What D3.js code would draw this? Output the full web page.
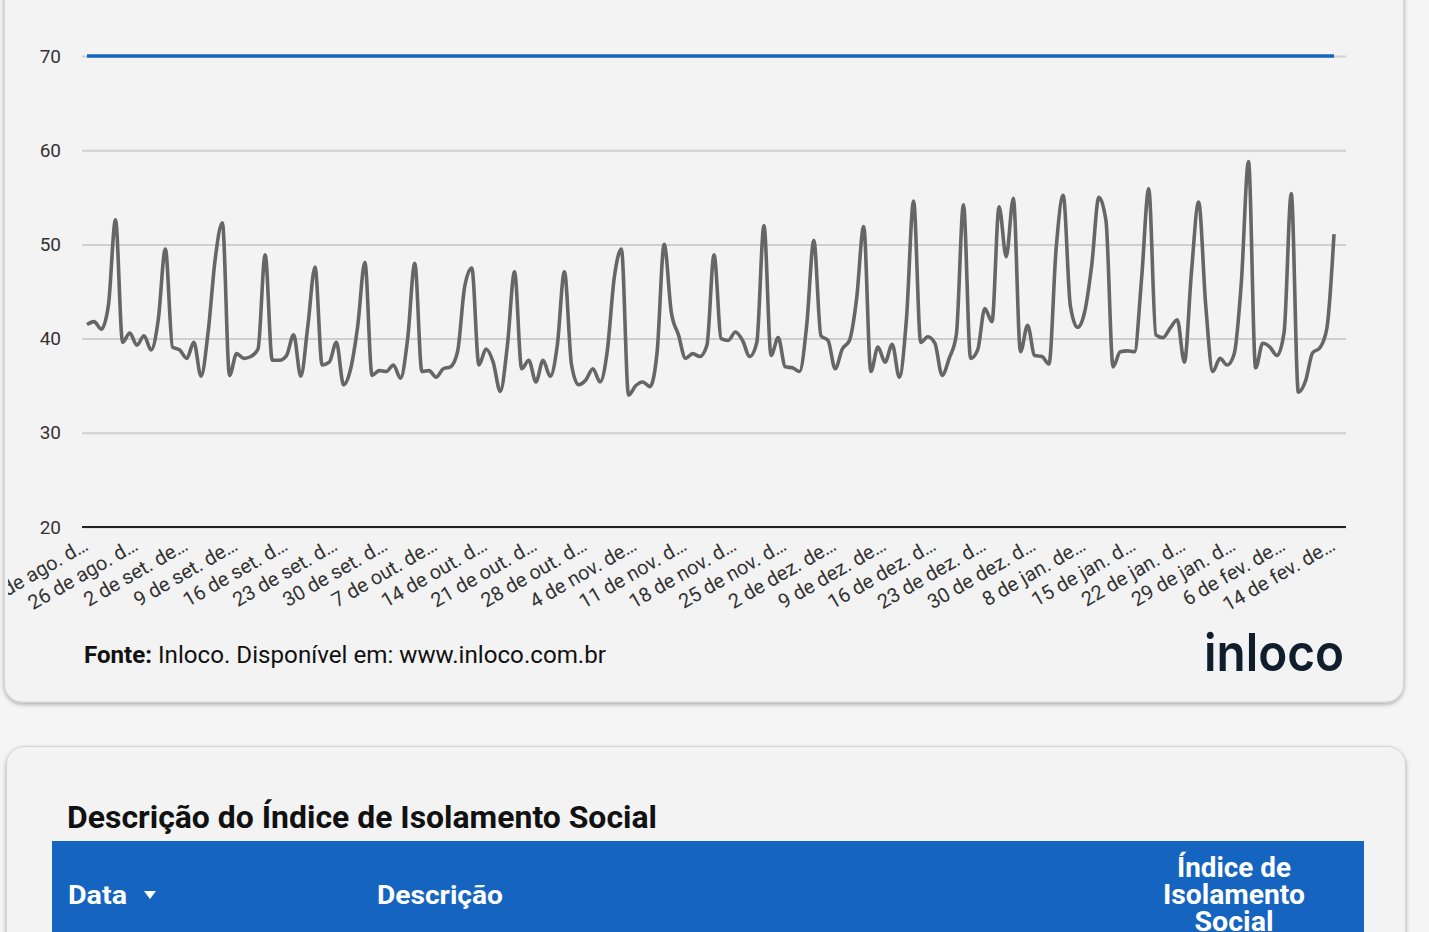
<!DOCTYPE html>
<html>
<head>
<meta charset="utf-8">
<script src="https://cdn.jsdelivr.net/npm/d3@7"></script>
<style>
  html, body { margin: 0; padding: 0; background: #f6f6f6; overflow: hidden; }
  svg { display: block; font-family: Roboto, "Noto Sans", sans-serif; }
</style>
</head>
<body>
<svg id="chart" width="1429" height="932"></svg>
<script>
// x tick labels (every 7th point), as shown truncated in the chart
const tickLabels = [
  "19 de ago. d…", "26 de ago. d…", "2 de set. de…", "9 de set. de…", "16 de set. d…",
  "23 de set. d…", "30 de set. d…", "7 de out. de…", "14 de out. d…", "21 de out. d…",
  "28 de out. d…", "4 de nov. de…", "11 de nov. d…", "18 de nov. d…", "25 de nov. d…",
  "2 de dez. de…", "9 de dez. de…", "16 de dez. d…", "23 de dez. d…", "30 de dez. d…",
  "8 de jan. de…", "15 de jan. d…", "22 de jan. d…", "29 de jan. d…", "6 de fev. de…",
  "14 de fev. de…"
];

// daily social isolation index
const isolamento = [
  41.5, 41.8, 41.0, 43.5, 52.6, 39.6, 40.6, 39.3, 40.3, 38.8,
  42.0, 49.5, 39.1, 38.8, 37.9, 39.6, 36.0, 40.7, 48.5, 52.3,
  36.1, 38.4, 37.9, 38.1, 38.9, 48.9, 37.7, 37.7, 38.2, 40.4,
  36.0, 41.4, 47.6, 37.2, 37.5, 39.6, 35.1, 36.8, 41.4, 48.1,
  36.1, 36.6, 36.5, 37.2, 35.8, 40.0, 48.0, 36.5, 36.6, 35.9,
  36.8, 37.0, 38.6, 45.5, 47.5, 37.2, 38.9, 37.5, 34.4, 39.3,
  47.1, 36.8, 37.7, 35.4, 37.7, 36.0, 39.3, 47.1, 37.2, 35.1,
  35.6, 36.8, 35.4, 38.6, 46.5, 49.5, 34.0, 35.0, 35.4, 34.9,
  38.5, 50.0, 42.8, 40.4, 37.9, 38.4, 38.1, 39.3, 48.9, 40.0,
  39.8, 40.7, 39.8, 38.1, 39.6, 52.0, 38.2, 40.1, 37.0, 36.9,
  36.5, 41.4, 50.4, 40.3, 39.8, 36.8, 38.9, 39.8, 44.2, 51.9,
  36.5, 39.1, 37.5, 39.4, 35.9, 42.1, 54.6, 39.6, 40.2, 39.5,
  36.1, 37.9, 40.4, 54.2, 37.9, 38.8, 43.2, 41.8, 54.0, 48.7,
  54.9, 38.6, 41.4, 38.2, 38.1, 37.3, 49.5, 55.2, 43.5, 41.2,
  42.8, 47.8, 55.0, 52.5, 37.0, 38.6, 38.7, 38.6, 46.4, 55.9,
  40.4, 40.1, 41.1, 42.0, 37.5, 47.1, 54.5, 43.5, 36.5, 37.9,
  37.2, 38.4, 46.0, 58.8, 36.9, 39.5, 39.1, 38.2, 40.7, 55.4,
  34.3, 35.5, 38.5, 39.0, 41.1, 51.1
];

const meta = 70;                       // reference line
const yTicks = [20, 30, 40, 50, 60, 70];
const tickEvery = 7;

const W = 1429, H = 932;
const svg = d3.select("#chart");

// --- defs: shadow + clip ---
const defs = svg.append("defs");
const shadow = defs.append("filter").attr("id", "shadow")
  .attr("x", "-5%").attr("y", "-5%").attr("width", "110%").attr("height", "115%");
shadow.append("feDropShadow")
  .attr("dx", 0).attr("dy", 2).attr("stdDeviation", 2)
  .attr("flood-color", "#000").attr("flood-opacity", 0.3);

defs.append("clipPath").attr("id", "cardClip")
  .append("rect").attr("x", 8).attr("y", 0).attr("width", 1390).attr("height", 700);

// --- page + cards ---
svg.append("rect").attr("width", W).attr("height", H).attr("fill", "#f5f5f5");

svg.append("rect")
  .attr("x", 4.5).attr("y", -40).attr("width", 1399).attr("height", 742).attr("rx", 18)
  .attr("fill", "#f3f3f3").attr("stroke", "#d4d4d4").attr("filter", "url(#shadow)");

svg.append("rect")
  .attr("x", 6.5).attr("y", 746.5).attr("width", 1399).attr("height", 260).attr("rx", 18)
  .attr("fill", "#f3f3f3").attr("stroke", "#d4d4d4").attr("filter", "url(#shadow)");

// --- scales ---
const x = d3.scaleLinear().domain([0, isolamento.length - 1]).range([87, 1334]);
const y = d3.scaleLinear().domain([20, 70]).range([527, 56]);
const gridLeft = 82, gridRight = 1346;

// y axis + gridlines
const yAxis = svg.append("g")
  .attr("transform", `translate(${gridLeft},0)`)
  .call(d3.axisLeft(y).tickValues(yTicks).tickSize(-(gridRight - gridLeft)).tickPadding(21));
yAxis.select(".domain").remove();
yAxis.selectAll("line").attr("stroke", "#cfcfcf").attr("stroke-width", 2);
yAxis.selectAll("text")
  .attr("fill", "#333").style("font-size", "19px").style("font-family", "Roboto");

// baseline
svg.append("line")
  .attr("x1", gridLeft).attr("x2", gridRight).attr("y1", y(20)).attr("y2", y(20))
  .attr("stroke", "#222").attr("stroke-width", 2);

// x axis labels
const xAxis = svg.append("g")
  .attr("clip-path", "url(#cardClip)")
  .append("g")
  .attr("transform", `translate(0,${y(20)})`)
  .call(d3.axisBottom(x)
    .tickValues(d3.range(0, isolamento.length, tickEvery))
    .tickFormat((d, i) => tickLabels[i])
    .tickSize(0));
xAxis.select(".domain").remove();
xAxis.selectAll("text")
  .attr("fill", "#333")
  .style("font-size", "20px").style("font-family", "Roboto")
  .attr("text-anchor", "end")
  .attr("y", 0).attr("dy", 0)
  .attr("transform", "translate(2,22) rotate(-30)");

// reference line (meta)
svg.append("line")
  .attr("x1", x(0)).attr("x2", x(isolamento.length - 1))
  .attr("y1", y(meta)).attr("y2", y(meta))
  .attr("stroke", "#1565c0").attr("stroke-width", 3.5);

// series line
const line = d3.line()
  .x((d, i) => x(i))
  .y(d => y(d))
  .curve(d3.curveMonotoneX);

svg.append("path")
  .datum(isolamento)
  .attr("d", line)
  .attr("fill", "none")
  .attr("stroke", "#666")
  .attr("stroke-width", 3.6)
  .attr("stroke-linejoin", "round");

// source note
svg.append("text").attr("x", 84).attr("y", 663)
  .attr("font-size", 23).attr("font-weight", 700).attr("fill", "#111")
  .attr("textLength", 68).attr("lengthAdjust", "spacingAndGlyphs")
  .text("Fonte:");
svg.append("text").attr("x", 158).attr("y", 663)
  .attr("font-size", 23).attr("fill", "#111")
  .attr("textLength", 448).attr("lengthAdjust", "spacingAndGlyphs")
  .text("Inloco. Disponível em: www.inloco.com.br");

// logo
svg.append("text").attr("x", 1204).attr("y", 671)
  .attr("font-family", "Inter, Lato, sans-serif").attr("font-weight", 600)
  .attr("font-size", 52).attr("fill", "#0f1d2c")
  .attr("textLength", 140).attr("lengthAdjust", "spacingAndGlyphs")
  .text("inloco");

// --- second card: table header ---
svg.append("text").attr("x", 67).attr("y", 828)
  .attr("font-size", 32).attr("font-weight", 700).attr("fill", "#111")
  .attr("textLength", 590).attr("lengthAdjust", "spacingAndGlyphs")
  .text("Descrição do Índice de Isolamento Social");

svg.append("rect").attr("x", 52).attr("y", 841).attr("width", 1312).attr("height", 100)
  .attr("fill", "#1565c0");

const hdr = svg.append("g").attr("fill", "#fff").attr("font-weight", 700).attr("font-size", 26);
hdr.append("text").attr("x", 68).attr("y", 904)
  .attr("textLength", 59).attr("lengthAdjust", "spacingAndGlyphs").text("Data");
hdr.append("path").attr("d", "M144,891 L156,891 L150,899 Z");
hdr.append("text").attr("x", 377).attr("y", 904)
  .attr("textLength", 126).attr("lengthAdjust", "spacingAndGlyphs").text("Descrição");
const hdrLines = ["Índice de", "Isolamento", "Social"];
const hdrWidths = [114, 142, 79];
hdr.selectAll(".h3").data(hdrLines).enter().append("text")
  .attr("x", 1234).attr("y", (d, i) => 877 + i * 27)
  .attr("font-size", 27)
  .attr("text-anchor", "middle")
  .attr("textLength", (d, i) => hdrWidths[i]).attr("lengthAdjust", "spacingAndGlyphs")
  .text(d => d);
</script>
</body>
</html>
